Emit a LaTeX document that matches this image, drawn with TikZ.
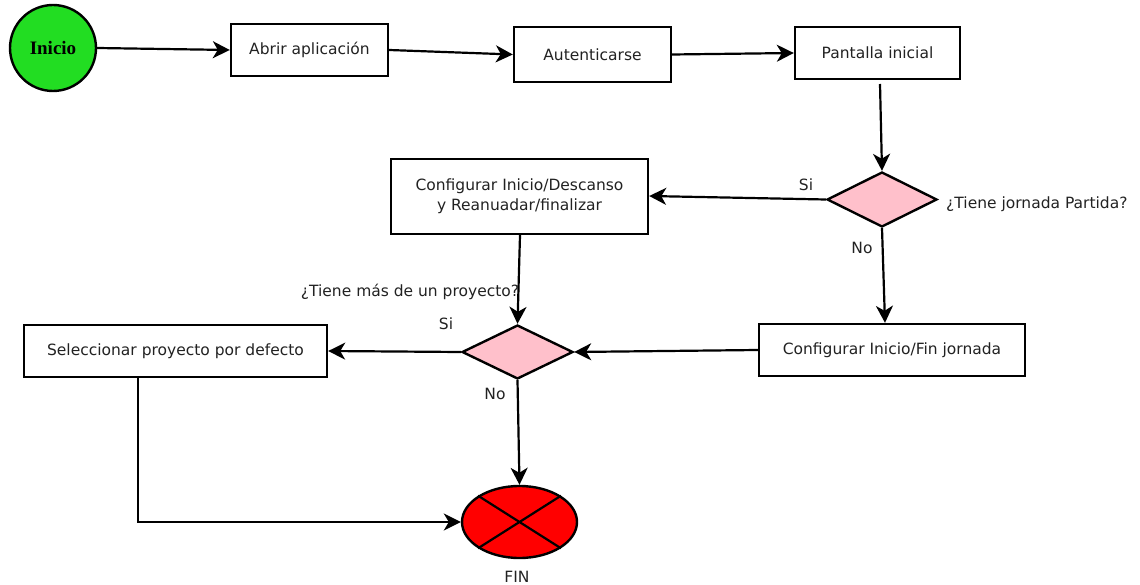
\documentclass[tikz,border=0pt]{standalone}
\usepackage{fontspec}
\setmainfont{DejaVu Sans}
\newfontfamily\serifb{Liberation Serif}
\usetikzlibrary{shapes.geometric,arrows.meta}
\definecolor{txt}{HTML}{222222}
\definecolor{startgreen}{HTML}{22DD22}
\definecolor{dpink}{HTML}{FFC0CB}
\definecolor{endred}{HTML}{FF0000}
\begin{document}
\begin{tikzpicture}[x=1pt,y=-1pt,
  box/.style={draw,line width=2.4pt,fill=white,minimum height=52pt,align=center,text=txt,font=\fontsize{15.5}{20}\selectfont,inner sep=0pt},
  dec/.style={draw,line width=2.4pt,fill=dpink,diamond,aspect=2,minimum width=110pt,minimum height=55pt,inner sep=0pt},
  conn/.style={line width=2.2pt,-{Stealth[length=17pt,width=17pt,inset=5pt]}},
  lbl/.style={text=txt,font=\fontsize{15.5}{18}\selectfont,inner sep=0pt}]
\useasboundingbox (0,0) rectangle (1140,585);
\node[circle,draw,line width=2.4pt,fill=startgreen,minimum size=86pt,inner sep=0pt,font=\serifb\bfseries\fontsize{19}{22}\selectfont] (ini) at (53,48) {Inicio};
\node[box,minimum width=157pt] (abrir) at (309.5,50) {Abrir aplicación};
\node[box,minimum width=157pt,minimum height=55pt] (aut) at (592.5,54.5) {Autenticarse};
\node[box,minimum width=165pt] (pant) at (877.5,53) {Pantalla inicial};
\node[dec] (d1) at (882,199.5) {};
\node[box,minimum width=257pt,minimum height=75pt] (desc) at (519.5,196.5) {Configurar Inicio/Descanso\\y Reanuadar/finalizar};
\node[dec,minimum width=111pt,minimum height=54pt] (d2) at (517.5,352) {};
\node[box,minimum width=266pt] (finj) at (892,350) {Configurar Inicio/Fin jornada};
\node[box,minimum width=303pt] (sel) at (175.5,351) {Seleccionar proyecto por defecto};
\node[ellipse,draw,line width=2.4pt,fill=endred,minimum width=115pt,minimum height=72pt,inner sep=0pt] (fin) at (519.5,522) {};
\draw[line width=2.2pt] (fin.north west) -- (fin.south east) (fin.north east) -- (fin.south west);
\node[lbl] (finlbl) at (517,577) {FIN};
\coordinate (pantb) at (880,84);
\draw[conn] (ini.east) -- (abrir.west);
\draw[conn] (abrir.east) -- (aut.west);
\draw[conn] (aut.east) -- (pant.west);
\draw[conn] (pantb) -- (d1.north);
\draw[conn] (d1.west) -- (desc.east |- 0,196);
\draw[conn] (d1.south) -- (finj.north -| 885,0);
\draw[conn] (desc.south -| 520,0) -- (d2.north);
\draw[conn] (finj.west) -- (d2.east);
\draw[conn] (d2.west) -- (sel.east);
\draw[conn] (d2.south) -- (fin.north);
\coordinate (selb) at (138,377);
\draw[conn] (selb) |- (fin.west);
\node[lbl,anchor=west] (q1) at (946,204) {¿Tiene jornada Partida?};
\node[lbl] (si1) at (806,185) {Si};
\node[lbl] (no1) at (862,248) {No};
\node[lbl] (q2) at (410,292) {¿Tiene más de un proyecto?};
\node[lbl] (si2) at (446,324) {Si};
\node[lbl] (no2) at (495,394) {No};
\end{tikzpicture}
\end{document}
